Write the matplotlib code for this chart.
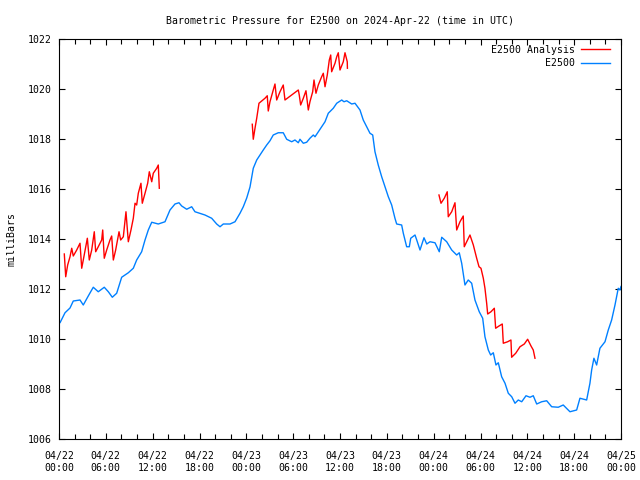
import numpy as np
import pandas as pd
import matplotlib
matplotlib.use('Agg')
import matplotlib.pyplot as plt
import matplotlib.dates as mdates


START = pd.Timestamp('2024-04-22 00:00')

# observed pressure (hours since start, millibars)
obs_hours = [0.0, 0.13, 0.77, 1.41, 1.83, 2.69, 3.11, 3.75, 4.39, 5.03, 5.80, 6.32, 6.83,
             7.39, 8.03, 8.88, 9.52, 9.95, 10.59, 11.02, 11.44, 11.88, 12.72, 13.58, 14.22,
             14.86, 15.37, 15.72, 16.36, 17.00, 17.42, 18.28, 18.70, 19.56, 20.20, 20.63,
             21.05, 21.91, 22.55, 23.19, 23.61, 24.05, 24.47, 24.89, 25.33, 25.75, 26.17,
             26.61, 27.03, 27.45, 28.09, 28.73, 29.17, 29.81, 30.23, 30.66, 30.87, 31.30,
             31.73, 32.15, 32.58, 32.80, 33.44, 34.08, 34.50, 35.14, 35.58, 36.22, 36.51,
             36.86, 37.50, 37.92, 38.56, 38.98, 39.42, 39.84, 40.19, 40.48, 40.90, 41.34,
             41.76, 42.19, 42.62, 43.04, 43.26, 43.90, 44.11, 44.54, 44.88, 45.06, 45.61,
             45.83, 46.25, 46.76, 47.11, 47.53, 48.17, 48.72, 49.03, 49.67, 50.31, 50.95,
             51.28, 51.59, 52.01, 52.43, 52.87, 53.29, 53.84, 54.28, 54.57, 55.00, 55.30,
             55.64, 55.98, 56.28, 56.71, 57.14, 57.56, 58.00, 58.42, 58.84, 59.28, 59.83,
             60.34, 60.76, 61.20, 61.84, 62.48, 63.12, 63.96, 64.60, 65.46, 66.32, 66.74,
             67.60, 68.02, 68.24, 68.53, 68.88, 69.30, 69.95, 70.37, 70.80, 71.23, 71.65,
             71.87, 72.0]
obs_mb = [1010.64, 1010.65, 1011.05, 1011.24, 1011.52, 1011.56, 1011.36, 1011.72, 1012.07,
          1011.89, 1012.07, 1011.89, 1011.67, 1011.83, 1012.47, 1012.65, 1012.83, 1013.16,
          1013.49, 1013.96, 1014.36, 1014.67, 1014.60, 1014.69, 1015.16, 1015.40, 1015.45,
          1015.32, 1015.19, 1015.29, 1015.09, 1015.00, 1014.96, 1014.83, 1014.60, 1014.49,
          1014.60, 1014.60, 1014.69, 1015.03, 1015.29, 1015.64, 1016.08, 1016.83, 1017.16,
          1017.36, 1017.56, 1017.76, 1017.93, 1018.16, 1018.25, 1018.25, 1017.99, 1017.89,
          1017.96, 1017.85, 1017.99, 1017.83, 1017.87, 1018.03, 1018.16, 1018.09, 1018.39,
          1018.69, 1019.03, 1019.23, 1019.43, 1019.56, 1019.49, 1019.53, 1019.40, 1019.43,
          1019.16, 1018.76, 1018.49, 1018.23, 1018.16, 1017.49, 1016.96, 1016.49, 1016.09,
          1015.69, 1015.36, 1014.83, 1014.60, 1014.56, 1014.23, 1013.69, 1013.69, 1014.03,
          1014.16, 1013.96, 1013.56, 1014.05, 1013.80, 1013.89, 1013.85, 1013.49, 1014.07,
          1013.89, 1013.56, 1013.36, 1013.45, 1013.03, 1012.16, 1012.36, 1012.23, 1011.56,
          1011.09, 1010.83, 1010.09, 1009.56, 1009.36, 1009.45, 1008.96, 1009.05, 1008.49,
          1008.23, 1007.83, 1007.69, 1007.43, 1007.56, 1007.49, 1007.73, 1007.67, 1007.73,
          1007.40, 1007.49, 1007.53, 1007.29, 1007.27, 1007.36, 1007.09, 1007.16, 1007.63,
          1007.56, 1008.23, 1008.76, 1009.23, 1008.96, 1009.63, 1009.89, 1010.36, 1010.76,
          1011.36, 1012.03, 1011.96, 1012.10]

# analysis, three runs
ana1_hours = [0.68, 0.86, 1.11, 1.41, 1.63, 1.83, 2.27, 2.69, 2.91, 3.11, 3.63, 3.88, 4.19,
              4.52, 4.70, 5.03, 5.47, 5.60, 5.80, 6.11, 6.53, 6.75, 6.96, 7.26, 7.69, 7.90,
              8.24, 8.58, 8.88, 9.22, 9.52, 9.74, 9.95, 10.16, 10.50, 10.67, 11.02, 11.36,
              11.57, 11.88, 12.08, 12.52, 12.72, 12.85]
ana1_mb = [1013.40, 1012.49, 1012.96, 1013.29, 1013.63, 1013.32, 1013.56, 1013.83, 1012.83,
           1013.16, 1014.03, 1013.16, 1013.56, 1014.29, 1013.49, 1013.69, 1013.96, 1014.36,
           1013.23, 1013.56, 1013.96, 1014.12, 1013.16, 1013.56, 1014.29, 1013.96, 1014.09,
           1015.09, 1013.89, 1014.36, 1014.83, 1015.43, 1015.36, 1015.83, 1016.23, 1015.43,
           1015.83, 1016.23, 1016.69, 1016.29, 1016.63, 1016.83, 1016.96, 1016.03]

ana2_hours = [24.76, 24.89, 25.11, 25.33, 25.62, 26.39, 26.68, 26.81, 27.03, 27.45, 27.67,
              27.89, 28.31, 28.73, 28.95, 30.66, 30.78, 30.96, 31.30, 31.64, 31.94, 32.15,
              32.50, 32.67, 32.92, 33.22, 33.65, 33.86, 34.08, 34.37, 34.63, 34.81, 34.93,
              35.36, 35.58, 35.78, 36.00, 36.42, 36.64, 36.93, 36.95]
ana2_mb = [1018.59, 1017.99, 1018.43, 1018.83, 1019.43, 1019.63, 1019.73, 1019.12, 1019.49,
           1019.96, 1020.20, 1019.56, 1019.89, 1020.16, 1019.56, 1019.96, 1019.76, 1019.36,
           1019.63, 1019.93, 1019.16, 1019.49, 1019.89, 1020.36, 1019.83, 1020.16, 1020.49,
           1020.63, 1020.09, 1020.56, 1021.16, 1021.36, 1020.69, 1021.03, 1021.29, 1021.45,
           1020.76, 1021.09, 1021.45, 1021.09, 1020.83]

ana3_hours = [48.68, 48.94, 49.36, 49.74, 49.87, 50.31, 50.73, 50.95, 51.37, 51.79, 51.92,
              52.23, 52.65, 53.08, 53.51, 53.81, 54.06, 54.36, 54.57, 54.79, 54.92, 55.34,
              55.77, 55.94, 56.37, 56.79, 56.92, 57.48, 57.90, 57.99, 58.51, 59.06, 59.61,
              60.04, 60.47, 60.76, 60.98]
ana3_mb = [1015.76, 1015.43, 1015.63, 1015.89, 1014.89, 1015.09, 1015.45, 1014.36, 1014.69,
           1014.92, 1013.69, 1013.89, 1014.16, 1013.76, 1013.23, 1012.89, 1012.83, 1012.43,
           1012.03, 1011.43, 1011.00, 1011.09, 1011.23, 1010.43, 1010.52, 1010.60, 1009.83,
           1009.89, 1009.96, 1009.27, 1009.43, 1009.69, 1009.80, 1009.99, 1009.72, 1009.56,
           1009.23]

RED = '#ff0000'
BLUE = '#0080ff'
FONT = 'DejaVu Sans Mono'
FS = 7.1


def to_times(hours):
    return START + pd.to_timedelta(np.asarray(hours, dtype=float), unit='h')


def main():
    plt.rcParams['font.family'] = FONT
    plt.rcParams['font.size'] = FS

    fig = plt.figure(figsize=(6.4, 4.8), dpi=100)
    ax = fig.add_axes([59 / 640, 41 / 480, 562 / 640, 400 / 480])

    runs = [(ana1_hours, ana1_mb), (ana2_hours, ana2_mb), (ana3_hours, ana3_mb)]
    for i, (hrs, vals) in enumerate(runs):
        ax.plot(to_times(hrs), vals, color=RED, linewidth=1.0,
                label='E2500 Analysis' if i == 0 else None)
    ax.plot(to_times(obs_hours), obs_mb, color=BLUE, linewidth=1.0, label='E2500')

    ax.set_xlim(START, START + pd.Timedelta(hours=72))
    ax.set_ylim(1006, 1022)
    ax.set_yticks(np.arange(1006, 1023, 2))
    ax.xaxis.set_major_locator(mdates.HourLocator(byhour=range(0, 24, 6)))
    ax.xaxis.set_minor_locator(mdates.HourLocator(byhour=range(0, 24, 2)))
    ax.xaxis.set_major_formatter(mdates.DateFormatter('%m/%d\n%H:%M'))

    ax.tick_params(which='both', direction='in', top=True, right=True,
                   width=0.8, colors='black', labelsize=FS)
    ax.tick_params(which='major', length=4.5)
    ax.tick_params(which='minor', length=3.5)
    ax.tick_params(axis='x', which='major', pad=8.5)
    ax.tick_params(axis='y', which='major', pad=5)
    for lbl in ax.get_xticklabels():
        lbl.set_linespacing(1.25)
    for spine in ax.spines.values():
        spine.set_linewidth(0.8)

    ax.set_ylabel('milliBars', fontsize=FS, labelpad=8)
    ax.set_title('Barometric Pressure for E2500 on 2024-Apr-22 (time in UTC)',
                 fontsize=FS, pad=11)

    ax.legend(loc='upper right', bbox_to_anchor=(1 - 5 / 562, 1), frameon=False,
              markerfirst=False, handlelength=2.95, borderaxespad=0.2,
              labelspacing=0.35, handletextpad=0.6, fontsize=FS)

    fig.savefig('out.png', dpi=100)


if __name__ == '__main__':
    main()
